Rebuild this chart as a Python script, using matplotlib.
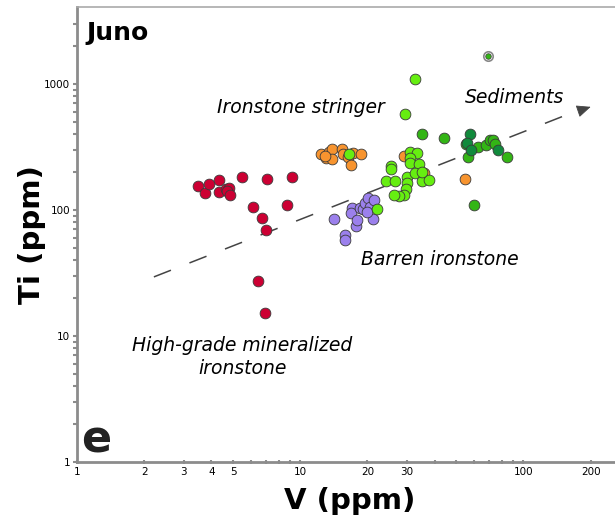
import matplotlib
matplotlib.use("Agg")
import matplotlib.pyplot as plt
from matplotlib.ticker import FixedLocator, NullFormatter, FixedFormatter

# ---------------- data ----------------
hg_v = [3.49, 3.75, 3.91, 4.33, 4.33, 4.66, 4.80, 4.70, 4.85, 5.50, 6.15, 6.76, 7.11, 7.04, 8.74, 9.21, 6.48, 6.97]
hg_ti = [155, 136, 161, 173, 139, 147, 150, 140, 131, 184, 106, 86, 176, 69, 110, 184, 27.3, 15.2]

str_v = [12.4, 13.1, 13.4, 13.9, 13.9, 15.4, 15.6, 16.3, 17.3, 18.8, 16.8, 12.9, 29.1, 35.7, 54.6]
str_ti = [278, 259, 289, 305, 254, 305, 278, 264, 283, 278, 228, 270, 268, 196, 175]

bar_p_v = [14.2, 15.9, 15.9, 17.1, 16.8, 17.7, 18.0, 18.6, 19.2, 19.6, 20.2, 20.6, 21.5, 21.2, 19.9]
bar_p_ti = [84.9, 63.3, 57.8, 104, 94.6, 74.6, 83.4, 104, 102, 114, 124, 106, 120, 84.9, 96]

bar_g_v = [32.5, 29.6, 16.6, 31.1, 33.4, 31.1, 30.9, 33.9, 25.6, 25.6, 24.1, 26.7, 30.1, 30.1,
           29.8, 29.1, 27.6, 26.2, 32.8, 35.1, 37.6, 35.1, 22.1]
bar_g_ti = [1096, 578, 278, 290, 285, 257, 235, 232, 223, 210, 168, 170, 184, 163,
            146, 131, 129, 131, 196, 170, 173, 201, 101]

sed_m_v = [35.1, 43.9, 56.2, 59.8, 84.5, 62.4, 67.6, 70.6, 73.1, 74.9, 55.0]
sed_m_ti = [401, 371, 262, 110, 265, 318, 328, 359, 359, 334, 334]

sed_d_v = [57.8, 55.9, 58.4, 77.0]
sed_d_ti = [401, 338, 299, 299]

outlier_v = [69.0]
outlier_ti = [1668]

trend_v = [2.21, 165]
trend_ti = [29.4, 590]
arrow_v = [190, 200]
arrow_ti = [637, 657]

x_major = [1, 2, 3, 4, 5, 10, 20, 30, 100, 200]
x_minor = [6, 7, 8, 9, 40, 50, 60, 70, 80, 90]
y_major = [1, 10, 100, 1000]
y_minor = [2, 3, 4, 5, 6, 7, 8, 9, 20, 30, 40, 50, 60, 70, 80, 90,
           200, 300, 400, 500, 600, 700, 800, 900, 2000, 3000]

# ---------------- figure ----------------
plt.rcParams['font.family'] = ['DejaVu Sans']
fig = plt.figure(figsize=(6.15, 5.2), dpi=100)
ax = fig.add_axes([77 / 615, 58 / 520, 538 / 615, 455 / 520])
ax.set_xscale('log')
ax.set_yscale('log')
ax.set_xlim(1, 257)
ax.set_ylim(1, 4070)

# trend line
ax.plot(trend_v, trend_ti, color='#444444', lw=1.1, dashes=(12, 13), zorder=1)
ax.annotate('', xy=(arrow_v[1], arrow_ti[1]), xytext=(arrow_v[0], arrow_ti[0]),
            arrowprops=dict(arrowstyle='-|>,head_length=0.8,head_width=0.35',
                            color='#444444', lw=0.6, mutation_scale=11), zorder=1)

kw = dict(s=60, edgecolors='#3a3a3a', linewidths=0.6, zorder=3)
ax.scatter(hg_v, hg_ti, c='#cc0033', **kw)
ax.scatter(str_v, str_ti, c='#f7942f', **kw)
ax.scatter(bar_p_v, bar_p_ti, c='#9b80ec', **kw)
ax.scatter(bar_g_v, bar_g_ti, c='#66ee11', **kw)
ax.scatter(sed_m_v, sed_m_ti, c='#33b515', **kw)
ax.scatter(sed_d_v, sed_d_ti, c='#118a3c', **kw)
ax.scatter(outlier_v, outlier_ti, s=46, facecolors='white', edgecolors='#888888', linewidths=1.2, zorder=3)
ax.scatter(outlier_v, outlier_ti, s=16, c='#33b515', edgecolors='#3a3a3a', linewidths=0.5, zorder=4)

# axes styling
ax.spines['right'].set_visible(False)
ax.spines['top'].set_color('#aaaaaa')
ax.spines['top'].set_linewidth(1.2)
for side in ['left', 'bottom']:
    ax.spines[side].set_color('#8c8c8c')
    ax.spines[side].set_linewidth(2)

ax.xaxis.set_major_locator(FixedLocator(x_major))
ax.xaxis.set_major_formatter(FixedFormatter([str(v) for v in x_major]))
ax.xaxis.set_minor_locator(FixedLocator(x_minor))
ax.xaxis.set_minor_formatter(NullFormatter())
ax.yaxis.set_major_locator(FixedLocator(y_major))
ax.yaxis.set_major_formatter(FixedFormatter([str(v) for v in y_major]))
ax.yaxis.set_minor_locator(FixedLocator(y_minor))
ax.yaxis.set_minor_formatter(NullFormatter())
ax.tick_params(axis='x', which='both', direction='inout', length=3.5, width=1.5,
               color='#8c8c8c', labelsize=7.5, pad=2)
ax.tick_params(axis='y', which='both', direction='out', length=3, width=1.5,
               color='#8c8c8c', labelsize=7.5, pad=2)

# labels
ax.set_xlabel('V (ppm)', fontsize=21, fontweight='bold')
ax.xaxis.set_label_coords(0.507, -0.055)
ax.set_ylabel('Ti (ppm)', fontsize=21, fontweight='bold')
ax.yaxis.set_label_coords(-0.057, 0.5)

ax.text(0.017, 0.927, 'Juno', transform=ax.transAxes, fontsize=18, fontweight='bold',
        ha='left', va='baseline')
ax.text(0.008, 0.02, 'e', transform=ax.transAxes, fontsize=32, fontweight='bold',
        ha='left', va='baseline', color='#222222')

tk = dict(transform=ax.transAxes, fontsize=13.5, style='italic', ha='center', va='center')
ax.text(0.416, 0.780, 'Ironstone stringer', **tk)
ax.text(0.814, 0.802, 'Sediments', **tk)
ax.text(0.675, 0.446, 'Barren ironstone', **tk)
ax.text(0.307, 0.231, 'High-grade mineralized\nironstone', linespacing=1.25, **tk)

fig.savefig('out.png', dpi=100)
